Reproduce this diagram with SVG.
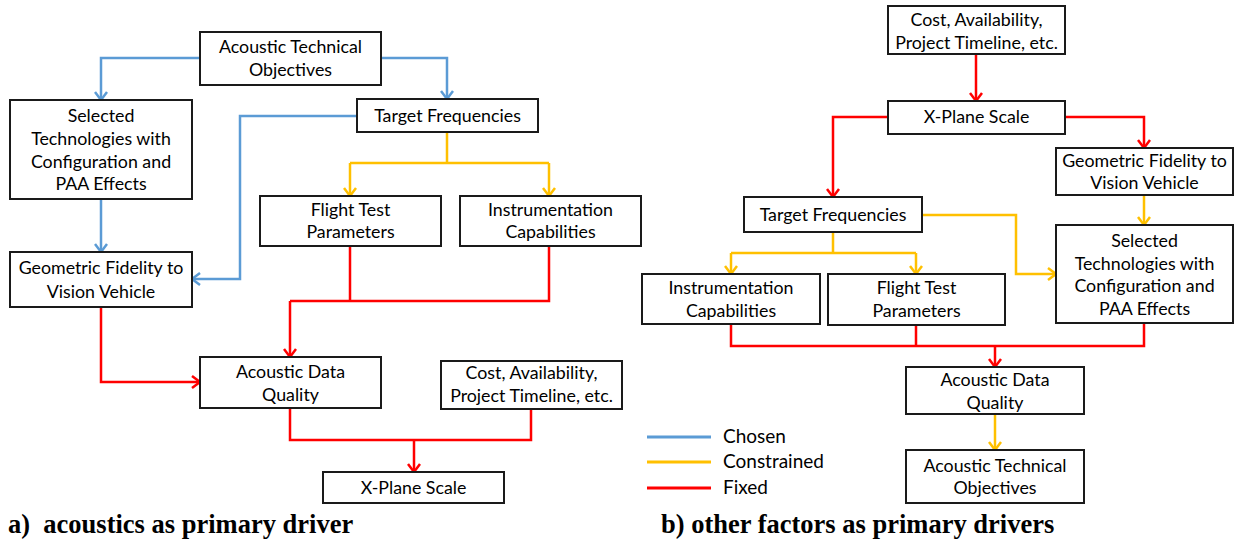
<svg xmlns="http://www.w3.org/2000/svg" width="1244" height="541" viewBox="0 0 1244 541">
<style>
.box{fill:#fff;stroke:#1a1a1a;stroke-width:2}
.t{font-family:Lato,"Open Sans","Liberation Sans",sans-serif;font-size:17.8px;fill:#000;text-anchor:middle}
.lg{font-family:Lato,"Open Sans","Liberation Sans",sans-serif;font-size:19px;fill:#000}
.cap{font-family:"Liberation Serif","Times New Roman",serif;font-size:26.5px;font-weight:bold;fill:#000;white-space:pre}
.c{fill:none;stroke-width:2.5}
.b{stroke:#5B9BD5}
.y{stroke:#FFC000}
.r{stroke:#FF0000}
.ab{marker-end:url(#mb)}
.ay{marker-end:url(#my)}
.ar{marker-end:url(#mr)}
</style>
<defs>
<marker id="mb" markerUnits="userSpaceOnUse" viewBox="-10 -10 20 20" markerWidth="20" markerHeight="20" refX="0" refY="0" orient="auto"><path d="M-8,-6 L0,0 L-8,6" fill="none" stroke="#5B9BD5" stroke-width="2.5"/></marker>
<marker id="my" markerUnits="userSpaceOnUse" viewBox="-10 -10 20 20" markerWidth="20" markerHeight="20" refX="0" refY="0" orient="auto"><path d="M-8,-6 L0,0 L-8,6" fill="none" stroke="#FFC000" stroke-width="2.5"/></marker>
<marker id="mr" markerUnits="userSpaceOnUse" viewBox="-10 -10 20 20" markerWidth="20" markerHeight="20" refX="0" refY="0" orient="auto"><path d="M-8,-6 L0,0 L-8,6" fill="none" stroke="#FF0000" stroke-width="2.5"/></marker>
</defs>
<rect width="1244" height="541" fill="#fff"/>
<g id="connectors">
<path class="c b ab" d="M200,58 H101 V100"/>
<path class="c b ab" d="M381,58 H447 V99"/>
<path class="c b ab" d="M357,116 H240 V279 H192"/>
<path class="c b ab" d="M101,199 V252"/>
<path class="c y" d="M447,132 V163 M350,163 H549"/>
<path class="c y ay" d="M350,163 V196"/>
<path class="c y ay" d="M549,163 V196"/>
<path class="c r" d="M350,246 V301 M549,246 V301 H290"/>
<path class="c r ar" d="M290,301 V357"/>
<path class="c r ar" d="M101,307 V382 H200"/>
<path class="c r" d="M290,408 V440 H531 V409"/>
<path class="c r ar" d="M414,440 V472"/>
<path class="c r ar" d="M976,54 V101"/>
<path class="c r ar" d="M888,117 H833 V197"/>
<path class="c r ar" d="M1065,117 H1144 V148"/>
<path class="c y ay" d="M1144,195 V225"/>
<path class="c y ay" d="M922,215 H1016 V274 H1056"/>
<path class="c y" d="M833,232 V253 M731,253 H916"/>
<path class="c y ay" d="M731,253 V274"/>
<path class="c y ay" d="M916,253 V274"/>
<path class="c r" d="M731,324 V346 H1144 V323 M916,325 V346"/>
<path class="c r ar" d="M995,346 V367"/>
<path class="c y ay" d="M995,414 V450"/>
</g>
<g id="a-ato"><rect class="box" x="200" y="32" width="181" height="53"/><text class="t" x="290.5" y="53">Acoustic Technical</text><text class="t" x="290.5" y="76">Objectives</text></g>
<g id="a-sel"><rect class="box" x="10" y="100" width="182" height="99"/><text class="t" x="101" y="122">Selected</text><text class="t" x="101" y="145">Technologies with</text><text class="t" x="101" y="168">Configuration and</text><text class="t" x="101" y="190">PAA Effects</text></g>
<g id="a-tf"><rect class="box" x="357" y="99" width="181" height="33"/><text class="t" x="447.5" y="122">Target Frequencies</text></g>
<g id="a-ftp"><rect class="box" x="260" y="196" width="181" height="50"/><text class="t" x="350.5" y="216">Flight Test</text><text class="t" x="350.5" y="238">Parameters</text></g>
<g id="a-ins"><rect class="box" x="460" y="196" width="181" height="50"/><text class="t" x="550.5" y="216">Instrumentation</text><text class="t" x="550.5" y="238">Capabilities</text></g>
<g id="a-geo"><rect class="box" x="10" y="252" width="182" height="55"/><text class="t" x="101" y="274">Geometric Fidelity to</text><text class="t" x="101" y="298">Vision Vehicle</text></g>
<g id="a-adq"><rect class="box" x="200" y="357" width="181" height="51"/><text class="t" x="290.5" y="378">Acoustic Data</text><text class="t" x="290.5" y="401">Quality</text></g>
<g id="a-cost"><rect class="box" x="441" y="361" width="181" height="48"/><text class="t" x="531.5" y="379">Cost, Availability,</text><text class="t" x="531.5" y="402">Project Timeline, etc.</text></g>
<g id="a-xps"><rect class="box" x="323" y="472" width="181" height="31"/><text class="t" x="413.5" y="494">X-Plane Scale</text></g>
<g id="b-cost"><rect class="box" x="888" y="6" width="177" height="48"/><text class="t" x="976.5" y="26">Cost, Availability,</text><text class="t" x="976.5" y="49">Project Timeline, etc.</text></g>
<g id="b-xps"><rect class="box" x="888" y="101" width="177" height="33"/><text class="t" x="976.5" y="123">X-Plane Scale</text></g>
<g id="b-geo"><rect class="box" x="1056" y="148" width="177" height="47"/><text class="t" x="1144.5" y="167">Geometric Fidelity to</text><text class="t" x="1144.5" y="189">Vision Vehicle</text></g>
<g id="b-tf"><rect class="box" x="744" y="197" width="178" height="35"/><text class="t" x="833" y="221">Target Frequencies</text></g>
<g id="b-sel"><rect class="box" x="1056" y="225" width="177" height="98"/><text class="t" x="1144.5" y="247">Selected</text><text class="t" x="1144.5" y="270">Technologies with</text><text class="t" x="1144.5" y="292">Configuration and</text><text class="t" x="1144.5" y="315">PAA Effects</text></g>
<g id="b-ins"><rect class="box" x="642" y="274" width="178" height="50"/><text class="t" x="731" y="294">Instrumentation</text><text class="t" x="731" y="317">Capabilities</text></g>
<g id="b-ftp"><rect class="box" x="828" y="274" width="177" height="51"/><text class="t" x="916.5" y="294">Flight Test</text><text class="t" x="916.5" y="317">Parameters</text></g>
<g id="b-adq"><rect class="box" x="906" y="367" width="178" height="47"/><text class="t" x="995" y="386">Acoustic Data</text><text class="t" x="995" y="409">Quality</text></g>
<g id="b-ato"><rect class="box" x="906" y="450" width="178" height="53"/><text class="t" x="995" y="472">Acoustic Technical</text><text class="t" x="995" y="494">Objectives</text></g>
<g id="legend">
<line x1="647" y1="437" x2="711" y2="437" stroke="#5B9BD5" stroke-width="3"/>
<line x1="647" y1="462" x2="711" y2="462" stroke="#FFC000" stroke-width="3"/>
<line x1="647" y1="488" x2="711" y2="488" stroke="#FF0000" stroke-width="3"/>
<text class="lg" x="723" y="443">Chosen</text>
<text class="lg" x="723" y="468">Constrained</text>
<text class="lg" x="723" y="494">Fixed</text>
</g>
<text class="cap" x="8" y="533">a)  acoustics as primary driver</text>
<text class="cap" x="661" y="533">b) other factors as primary drivers</text>
</svg>
